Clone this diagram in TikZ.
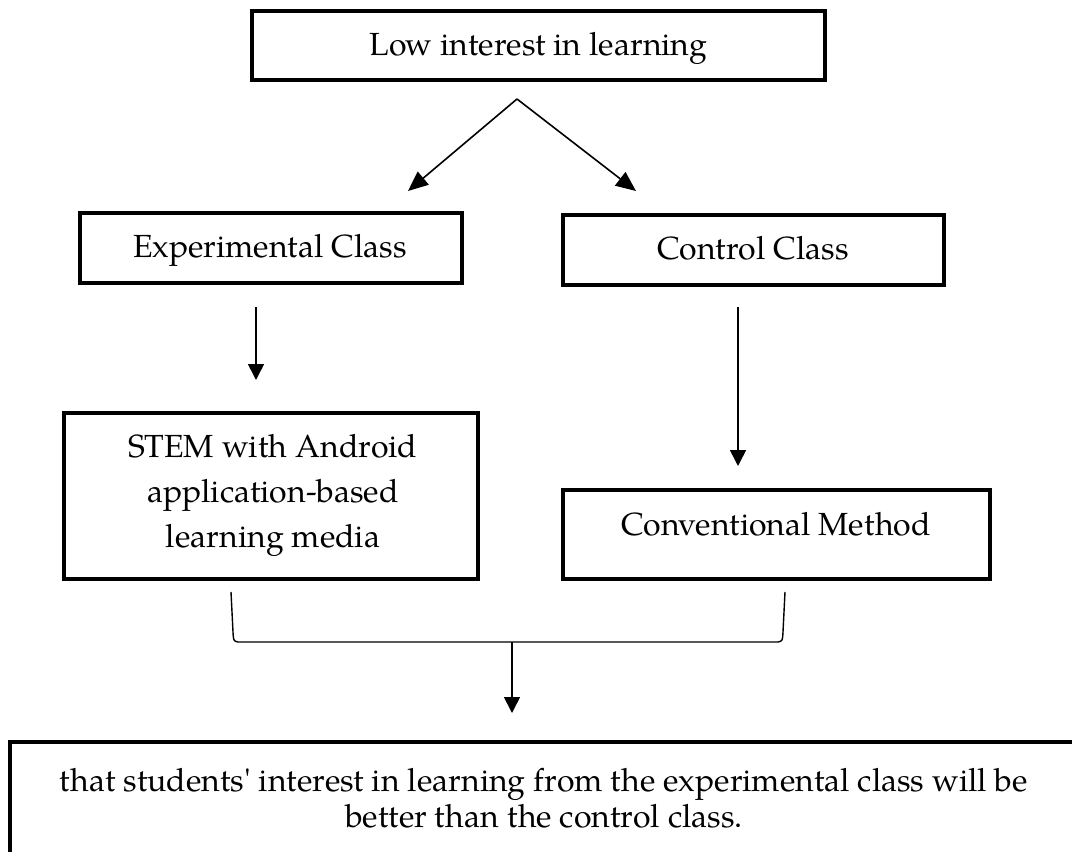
\documentclass[tikz,border=0pt]{standalone}
\usepackage{fontspec}
\setmainfont{TeX Gyre Pagella}
\usetikzlibrary{arrows.meta}
\begin{document}
\begin{tikzpicture}[x=1pt,y=-1pt,
  box/.style={draw, line width=4pt, rectangle, inner sep=0pt},
  lbl/.style={font=\fontsize{32}{45}\selectfont, align=center, inner sep=0pt},
  arr/.style={line width=1.6pt, -{Triangle[length=16pt,width=16pt]}},
  arrbig/.style={line width=1.6pt, -{Triangle[length=20pt,width=17pt]}},
  brk/.style={line width=1.4pt},
]
\useasboundingbox (0,0) rectangle (1072,852);
% boxes
\node[box, minimum width=573pt, minimum height=69pt] (top) at (538.5,45.5) {};
\node[lbl, anchor=base] (topt) at (538.5,55) {Low interest in learning};
\node[box, minimum width=382pt, minimum height=70pt] (exp) at (271,248) {};
\node[lbl, anchor=base] (expt) at (270,257) {Experimental Class};
\node[box, minimum width=381pt, minimum height=70pt] (ctl) at (753.5,250) {};
\node[lbl, anchor=base] (ctlt) at (753,259) {Control Class};
\node[box, minimum width=414pt, minimum height=166pt] (stem) at (271,496) {};
\node[lbl] (stemt) at (273,495) {STEM with Android\\application-based\\learning media};
\node[box, minimum width=427pt, minimum height=89pt] (conv) at (776.5,534.5) {};
\node[lbl, anchor=base] (convt) at (776,535) {Conventional Method};
\node[box, minimum width=1100pt, minimum height=140pt, anchor=north west] (res) at (8,740) {};
\node[lbl, font=\fontsize{32}{36}\selectfont] (rest) at (544,798) {that students\textquotesingle{} interest in learning from the experimental class will be\\better than the control class.};
% connectors
\coordinate (peak) at (517,99);
\coordinate (tipL) at (408,191);
\coordinate (tipR) at (636,191);
\draw[arrbig] (peak) -- (tipL);
\draw[arrbig] (peak) -- (tipR);
\coordinate (e1) at (256,307);
\coordinate (e2) at (256,380);
\draw[arr] (e1) -- (e2);
\coordinate (c1) at (738,307);
\coordinate (c2) at (738,466);
\draw[arr] (c1) -- (c2);
\coordinate (bl) at (231,592);
\coordinate (br) at (785,592);
\coordinate (bm) at (512,642);
\coordinate (bt) at (512,713);
\draw[brk] (bl) -- (233,632) .. controls (233.5,641) .. (238,642) -- (778,642) .. controls (782.5,641) .. (783,632) -- (br);
\draw[arr] (bm) -- (bt);
\end{tikzpicture}
\end{document}
